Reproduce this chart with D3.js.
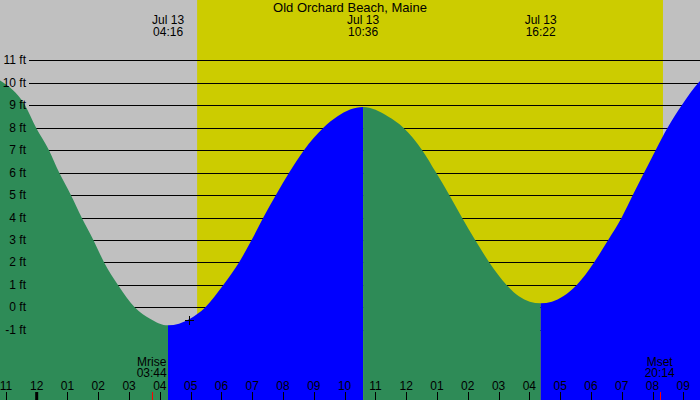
<!DOCTYPE html>
<html>
<head>
<meta charset="utf-8">
<script src="https://cdn.jsdelivr.net/npm/d3@7"></script>
<style>
body { margin: 0; background: #fff; }
text { font-family: "Liberation Sans", Arial, sans-serif; fill: #000; }
</style>
</head>
<body>
<div id="chart"></div>
<script>
const title = "Old Orchard Beach, Maine"

// tide height (ft) at hours from midnight, Jul 13
const tideHours = [-1.6, -1.19, -0.38, -0.02, 0.40, 0.73, 1.11, 1.46, 1.84, 2.19, 2.64, 3.19, 3.68, 4.267,
    4.98, 5.47, 6.06, 6.57, 6.98, 7.36, 7.77, 8.20, 8.68, 9.31, 9.76, 10.6,
    11.41, 11.91, 12.52, 12.97, 13.40, 13.81, 14.24, 14.70, 15.26, 15.66, 16.367,
    17.1, 17.54, 18.10, 18.56, 19.0, 19.36, 19.73, 20.10, 20.49, 20.95, 21.49, 21.8]
const tideFeet = [10.4, 10.1, 9, 8, 7, 6, 5, 4, 3, 2, 1, 0, -0.5, -0.8,
    -0.5, 0, 1, 2, 3, 4, 5, 6, 7, 8, 8.5, 8.92,
    8.5, 8, 7, 6, 5, 4, 3, 2, 1, 0.5, 0.18,
    0.5, 1, 2, 3, 4, 5, 6, 7, 8, 9, 10, 10.46]

// high / low times
const extremeHours = [4.267, 10.6, 16.367]
const extremeLabels = ["04:16", "10:36", "16:22"]
const extremeDate = "Jul 13"

const sunrise = 5.21
const sunset = 20.34

const moonHours = [3.733, 20.233]
const moonNames = ["Mrise", "Mset"]
const moonLabels = ["03:44", "20:14"]

const hourTicks = [-1, 0, 1, 2, 3, 4, 5, 6, 7, 8, 9, 10, 11, 12, 13, 14, 15, 16, 17, 18, 19, 20, 21]
const hourLabels = ["11", "12", "01", "02", "03", "04", "05", "06", "07", "08", "09", "10",
    "11", "12", "01", "02", "03", "04", "05", "06", "07", "08", "09"]
const feetTicks = [-1, 0, 1, 2, 3, 4, 5, 6, 7, 8, 9, 10, 11]

const nowHour = 4.96
const nowFeet = -0.55

const w = 700
const h = 400

var svg = d3.select("#chart").append("svg")
    .attr("width", w).attr("height", h)

var x = d3.scaleLinear().domain([0, 21]).range([36.7, 683.3])
var y = d3.scaleLinear().domain([0, 11]).range([307.4, 60.3])

var crisp = function(v) { return Math.round(v) + 0.5 }

// night / day background
svg.append("rect").attr("width", w).attr("height", h).attr("fill", "#c0c0c0")
svg.append("rect")
    .attr("x", x(sunrise)).attr("y", 0)
    .attr("width", x(sunset) - x(sunrise)).attr("height", h)
    .attr("fill", "#cccc00")

// grid lines
svg.selectAll(".grid").data(feetTicks)
    .enter().append("line")
    .attr("class", "grid")
    .attr("x1", 29).attr("x2", w)
    .attr("y1", function(d) { return crisp(y(d)) })
    .attr("y2", function(d) { return crisp(y(d)) })
    .attr("stroke", "#000").attr("stroke-width", 1)

// tide area, split at each high / low
var tide = tideHours.map(function(t, i) { return { hour: t, feet: tideFeet[i] } })
var area = d3.area()
    .x(function(d) { return x(d.hour) })
    .y0(h)
    .y1(function(d) { return y(d.feet) })
    .curve(d3.curveMonotoneX)

var bounds = [-3].concat(extremeHours).concat([24])
var colors = ["#2e8b57", "#0000ff", "#2e8b57", "#0000ff"]
var defs = svg.append("defs")
colors.forEach(function(c, i) {
    var x0 = x(bounds[i]), x1 = x(bounds[i + 1])
    defs.append("clipPath").attr("id", "seg" + i)
        .append("rect")
        .attr("x", x0).attr("y", 0)
        .attr("width", x1 - x0).attr("height", h)
    svg.append("path")
        .datum(tide)
        .attr("d", area)
        .attr("fill", c)
        .attr("clip-path", "url(#seg" + i + ")")
})

// current time marker
var mx = Math.round(x(nowHour)) + 0.5, my = Math.round(y(nowFeet)) + 0.5
svg.append("line").attr("x1", mx - 4.5).attr("x2", mx + 4.5).attr("y1", my).attr("y2", my).attr("stroke", "#000")
svg.append("line").attr("x1", mx).attr("x2", mx).attr("y1", my - 4.5).attr("y2", my + 4.5).attr("stroke", "#000")

// y labels
svg.selectAll(".ylab").data(feetTicks)
    .enter().append("text")
    .attr("class", "ylab")
    .attr("x", 26)
    .attr("y", function(d) { return y(d) + 4 })
    .attr("text-anchor", "end")
    .style("font-size", "12px")
    .text(function(d) { return d + " ft" })

// title and high / low labels
svg.append("text").attr("x", w / 2).attr("y", 12.3)
    .attr("text-anchor", "middle").style("font-size", "13px")
    .text(title)

extremeHours.forEach(function(t, i) {
    svg.append("text").attr("x", x(t)).attr("y", 24)
        .attr("text-anchor", "middle").style("font-size", "12px")
        .text(extremeDate)
    svg.append("text").attr("x", x(t)).attr("y", 36)
        .attr("text-anchor", "middle").style("font-size", "12px")
        .text(extremeLabels[i])
})

// hour axis
svg.selectAll(".tick").data(hourTicks)
    .enter().append("line")
    .attr("class", "tick")
    .attr("x1", function(d) { return d == 0 ? x(d) : crisp(x(d)) })
    .attr("x2", function(d) { return d == 0 ? x(d) : crisp(x(d)) })
    .attr("y1", 392).attr("y2", h)
    .attr("stroke", "#000")
    .attr("stroke-width", function(d) { return d == 0 ? 3 : 1 })

svg.selectAll(".hlab").data(hourTicks)
    .enter().append("text")
    .attr("class", "hlab")
    .attr("x", function(d) { return x(d) })
    .attr("y", 390.3)
    .attr("text-anchor", "middle")
    .style("font-size", "12px")
    .text(function(d, i) { return hourLabels[i] })

// moon rise / set
moonHours.forEach(function(t, i) {
    svg.append("line")
        .attr("x1", crisp(x(t))).attr("x2", crisp(x(t)))
        .attr("y1", 392).attr("y2", h)
        .attr("stroke", "#ff0000")
    svg.append("text").attr("x", x(t)).attr("y", 366)
        .attr("text-anchor", "middle").style("font-size", "12px")
        .text(moonNames[i])
    svg.append("text").attr("x", x(t)).attr("y", 377.3)
        .attr("text-anchor", "middle").style("font-size", "12px")
        .text(moonLabels[i])
})
</script>
</body>
</html>
